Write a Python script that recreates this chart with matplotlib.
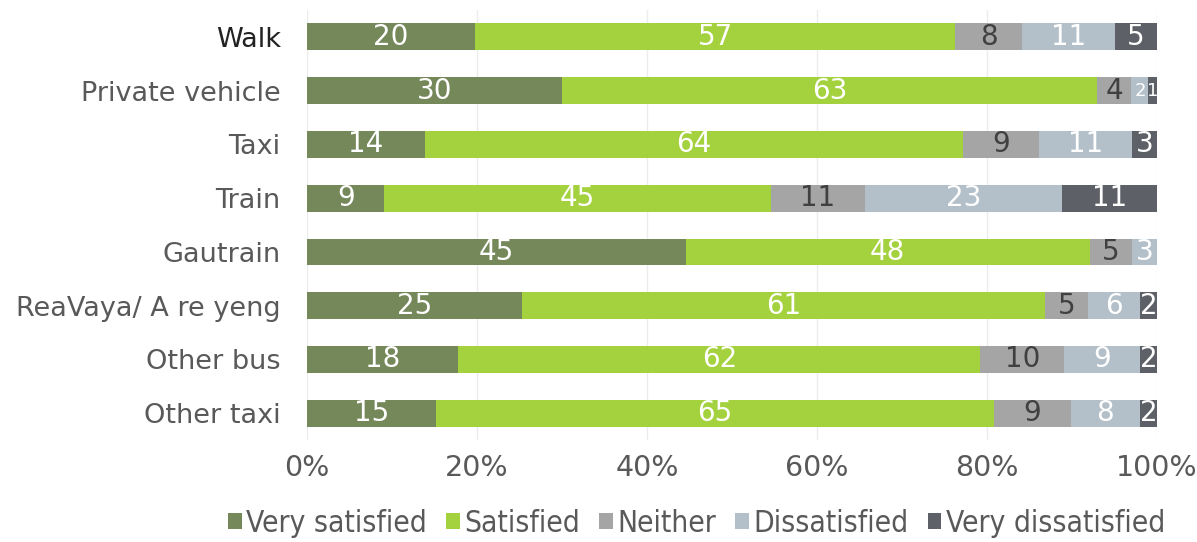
import numpy as np
import matplotlib.pyplot as plt

modes = ["Walk", "Private vehicle", "Taxi", "Train", "Gautrain",
         "ReaVaya/ A re yeng", "Other bus", "Other taxi"]
very_satisfied = [20, 30, 14, 9, 45, 25, 18, 15]
satisfied = [57, 63, 64, 45, 48, 61, 62, 65]
neither = [8, 4, 9, 11, 5, 5, 10, 9]
dissatisfied = [11, 2, 11, 23, 3, 6, 9, 8]
very_dissatisfied = [5, 1, 3, 11, 0, 2, 2, 2]
series_names = ["Very satisfied", "Satisfied", "Neither", "Dissatisfied", "Very dissatisfied"]

colors = ["#75885a", "#a4d13e", "#a5a5a5", "#b3c0c9", "#5d6066"]
text_colors = ["white", "white", "#404040", "white", "white"]

data = np.array([very_satisfied, satisfied, neither, dissatisfied, very_dissatisfied], dtype=float)
pct = data / data.sum(axis=0) * 100

fig = plt.figure(figsize=(11.97, 5.42), dpi=100)
ax = fig.add_axes([0.2565, 0.188, 0.71, 0.7935])

y = np.arange(len(modes))
left = np.zeros(len(modes))
for k in range(len(series_names)):
    ax.barh(y, pct[k], left=left, height=0.5, color=colors[k], label=series_names[k], zorder=2)
    for i in range(len(modes)):
        if data[k, i] > 0:
            # squeeze labels where a 1% segment sits next door
            tiny = pct[k, i] < 1.5 or (k + 1 < len(series_names) and 0 < pct[k + 1, i] < 1.5)
            fs = 13 if tiny else 20
            ax.text(left[i] + pct[k, i] / 2, y[i], str(int(data[k, i])), ha="center", va="center",
                    color=text_colors[k], fontsize=fs, zorder=3)
    left += pct[k]

ax.set_xlim(0, 100)
ax.set_ylim(len(modes) - 0.5, -0.5)
ax.set_yticks(y)
ax.set_yticklabels(modes, fontsize=19.5, color="#595959")
ax.get_yticklabels()[0].set_color("#222222")
ax.set_xticks(np.arange(0, 101, 20))
ax.set_xticklabels([f"{v}%" for v in range(0, 101, 20)], fontsize=20.5, color="#595959")
ax.tick_params(axis="y", length=0, pad=19)
ax.tick_params(axis="x", length=0, pad=10)
ax.grid(axis="x", color="#ececec", linewidth=1, zorder=0)
for s in ax.spines.values():
    s.set_visible(False)

leg = fig.legend(loc="lower center", ncol=5, bbox_to_anchor=(0.582, -0.042), frameon=False,
                 prop={"size": 21.5, "stretch": "condensed"},
                 handlelength=0.45, handleheight=0.45, handletextpad=0.15, columnspacing=0.65)
for t in leg.get_texts():
    t.set_color("#595959")

fig.savefig("out.png", dpi=100)
